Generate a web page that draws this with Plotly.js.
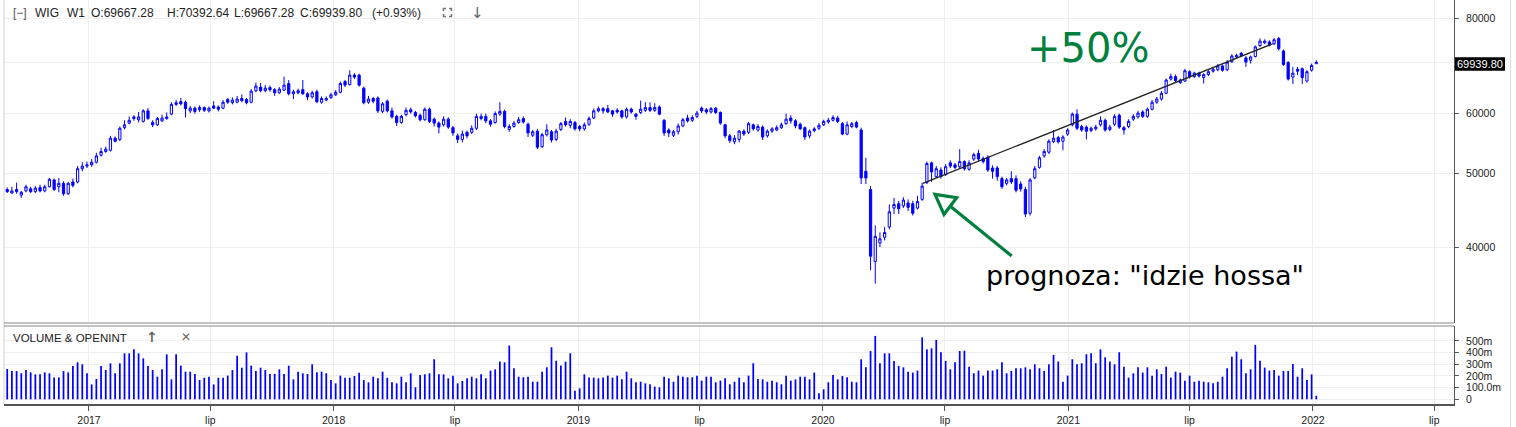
<!DOCTYPE html>
<html><head><meta charset="utf-8">
<script src="https://cdn.plot.ly/plotly-3.0.1.min.js"></script>
<style>html,body{margin:0;padding:0;background:#fff;}#chart{width:1516px;height:427px;}</style>
</head><body><div id="chart"></div>
<script>
// ---- DATA (weekly WIG candles, values in thousands of points; volume in millions) ----
const firstWeek = '2016-09-01';
const openK = [
47.6,47.1,47.6,46.8,47.4,47.7,47.3,47.9,47.4,48.0,
49.0,48.0,48.5,47.0,48.7,48.7,50.7,51.1,51.3,51.7,
52.8,53.4,53.6,55.6,55.4,57.4,58.2,59.0,58.8,58.5,
60.4,58.3,57.9,58.6,59.0,59.8,61.6,62.1,62.0,60.4,
60.9,60.6,61.0,60.4,61.3,61.1,60.9,62.5,61.9,62.0,
62.7,62.5,62.0,64.2,64.9,64.2,64.8,64.4,63.8,64.3,
65.6,63.6,63.8,64.4,63.6,63.0,64.0,62.0,62.4,62.9,
63.4,63.9,66.0,65.4,67.3,67.3,64.7,62.0,62.7,62.8,
60.3,62.2,60.4,59.4,58.3,59.7,60.6,60.1,59.6,58.8,
60.7,58.9,58.2,57.9,58.9,57.4,56.0,55.4,56.6,56.6,
57.3,59.0,59.4,58.6,58.3,59.8,60.3,57.1,57.6,58.3,
59.0,58.0,56.1,56.8,54.2,56.2,56.7,55.4,57.1,58.5,
57.8,58.3,57.6,57.2,58.0,59.1,60.4,60.8,60.8,60.4,
60.5,60.4,59.3,60.7,59.8,60.1,60.5,61.0,60.5,61.1,
58.7,57.0,56.1,56.7,57.7,59.1,58.7,59.4,60.9,60.6,
60.2,60.9,60.1,57.9,56.0,55.0,55.4,56.8,56.6,57.9,
57.0,57.5,56.0,56.8,57.0,57.4,58.1,59.1,58.6,58.0,
57.4,56.0,56.9,57.3,57.9,58.4,58.7,59.1,58.1,56.3,
57.6,58.3,57.0,50.3,47.6,38.3,40.5,41.2,42.5,45.0,
45.6,45.3,45.7,45.6,45.0,46.2,48.6,51.6,49.5,50.5,
49.8,51.6,51.3,51.0,51.8,50.6,52.2,53.1,52.3,52.5,
50.8,50.8,49.2,48.5,49.2,49.2,48.4,47.6,44.3,49.3,
50.9,52.7,53.3,55.0,55.7,55.1,56.3,57.9,59.8,57.6,
57.5,56.9,57.2,57.9,58.7,57.1,58.0,59.6,57.4,57.6,
58.9,59.3,60.2,59.4,60.7,62.0,62.6,63.7,66.5,67.0,
65.8,66.1,68.0,67.0,67.7,66.8,67.4,68.1,68.4,69.2,
68.4,70.1,71.1,71.9,70.9,70.4,71.2,73.6,74.2,74.4,
74.0,75.2,72.4,69.9,66.9,68.5,68.6,66.1,68.3,69.66728];
const highK = [
47.9,48.0,48.6,47.4,48.3,48.0,48.1,48.3,48.3,49.3,
49.2,49.3,48.8,48.7,49.2,51.1,51.7,51.8,52.2,53.2,
54.0,54.2,56.0,55.9,57.6,58.7,59.4,59.6,60.2,60.7,
60.9,58.7,59.3,59.7,60.1,62.0,62.4,62.8,62.3,61.3,
61.2,61.4,61.2,61.2,62.2,61.4,62.4,62.8,62.9,63.2,
63.5,62.8,64.5,65.8,65.7,65.3,65.2,64.7,64.9,67.0,
66.3,64.4,64.6,66.3,63.9,64.2,64.4,63.1,63.1,63.8,
64.3,66.0,66.3,68.3,67.7,67.6,65.0,63.2,63.0,63.1,
62.0,62.5,61.0,59.7,59.7,61.0,61.0,60.4,59.9,61.0,
61.0,59.2,58.5,59.4,59.2,57.7,56.4,56.9,56.9,57.8,
59.9,59.9,59.9,58.9,60.3,62.0,60.6,58.0,58.6,59.3,
59.4,58.3,57.0,57.2,56.5,58.0,57.0,57.2,58.4,59.2,
58.9,58.6,57.9,58.3,59.4,60.8,61.2,61.1,61.5,60.6,
60.9,60.6,61.0,61.0,60.0,62.3,62.0,62.0,61.8,61.4,
58.9,57.3,57.0,58.1,59.1,59.7,59.6,60.4,61.2,60.9,
61.1,61.1,60.3,58.1,56.3,56.1,57.0,57.1,58.4,58.1,
58.0,57.8,57.1,57.5,57.8,58.3,59.9,59.6,58.9,58.3,
57.6,57.1,57.5,58.2,58.8,59.1,59.6,59.5,58.4,58.5,
58.4,58.6,57.4,52.4,48.1,42.7,41.8,42.5,45.5,46.4,
46.0,46.5,46.2,46.0,46.7,48.6,51.8,51.8,51.1,50.9,
51.4,52.0,51.6,53.8,52.0,52.0,53.2,53.7,52.6,52.8,
51.2,51.1,49.5,49.3,50.3,49.7,48.8,48.0,49.3,51.1,
52.7,53.8,55.4,57.0,56.0,56.1,57.3,60.1,60.7,57.9,
57.8,57.6,57.9,59.4,59.0,57.9,59.8,59.9,57.7,58.9,
59.8,60.4,60.5,61.0,62.4,63.0,64.1,66.6,67.6,67.4,
66.6,68.6,68.3,68.0,68.0,67.7,68.3,68.8,69.6,69.5,
70.4,71.7,71.8,72.2,71.3,71.4,73.6,75.2,75.0,74.8,
75.3,75.5,72.7,70.2,69.0,69.0,68.9,68.3,69.7,70.39264];
const lowK = [
47.1,47.0,47.0,46.4,47.2,47.1,47.1,47.2,47.2,47.9,
47.4,47.2,46.7,46.8,47.9,48.5,50.3,50.8,51.0,51.5,
52.6,53.2,53.4,54.9,55.1,57.1,58.0,58.6,58.3,58.3,
58.8,57.5,57.7,58.4,58.8,59.6,61.3,61.4,59.2,60.0,
59.9,60.2,60.2,60.1,60.7,60.3,60.7,61.7,61.6,61.8,
62.0,61.6,61.8,63.9,63.9,63.9,64.0,63.2,63.6,64.2,
63.3,62.6,63.5,63.4,62.4,62.7,61.8,61.7,62.2,62.6,
63.2,63.7,64.9,65.2,66.5,65.0,61.6,61.7,61.8,60.0,
60.0,60.1,59.0,57.7,58.1,59.4,59.9,59.2,58.5,58.6,
58.2,57.6,56.4,57.6,57.2,56.0,54.8,54.9,55.6,56.3,
57.0,58.7,58.2,57.6,58.1,59.5,57.3,56.7,57.4,58.1,
58.1,55.8,55.8,53.8,54.0,55.9,54.9,55.1,56.8,57.6,
57.3,56.9,56.8,56.9,57.7,58.9,60.1,59.9,60.0,59.3,
59.9,59.0,59.0,59.9,58.8,59.8,60.2,60.2,60.2,59.6,
56.0,55.8,55.8,56.2,57.5,58.3,58.4,59.1,60.0,59.8,
59.9,59.8,57.9,55.6,54.8,54.6,54.9,56.0,56.3,56.9,
56.7,55.3,55.7,56.5,56.8,57.2,57.9,58.1,57.3,57.0,
55.3,55.6,56.6,57.0,57.7,58.1,58.5,58.2,56.1,56.1,
57.3,57.3,48.4,48.4,37.3,35.8,40.0,40.8,42.2,44.2,
44.2,45.0,44.6,44.0,44.8,46.0,48.4,48.7,49.3,49.2,
49.6,50.8,50.6,50.8,50.4,50.4,51.9,51.9,51.5,50.2,
49.2,48.9,47.7,48.2,48.4,47.2,47.3,43.8,44.0,49.1,
50.7,52.4,53.0,54.8,54.7,53.6,56.0,57.6,57.0,56.7,
55.4,56.6,56.9,57.6,56.7,56.8,57.7,57.2,56.2,57.3,
58.6,59.0,59.1,59.1,60.5,61.7,62.3,63.5,66.2,65.8,
65.5,65.9,66.6,66.7,66.8,65.6,67.1,67.8,68.1,68.0,
68.1,69.8,70.8,71.1,69.0,69.7,71.0,73.3,73.9,73.4,
73.7,72.5,69.2,66.2,65.5,67.3,65.5,65.8,68.0,69.66728];
const closeK = [
47.3,47.4,47.3,47.2,48.0,47.3,47.8,47.4,48.0,49.1,
47.6,48.5,47.0,48.5,48.2,50.7,51.1,51.3,51.7,52.7,
53.4,53.8,55.6,55.1,57.3,57.9,58.7,59.3,59.3,60.4,
59.0,57.9,59.0,59.1,59.3,61.6,61.9,61.7,60.8,60.9,
60.3,61.0,60.5,60.9,60.9,60.7,62.0,62.0,62.4,62.6,
62.3,61.9,64.1,65.1,64.2,64.7,64.4,63.8,64.5,65.3,
63.6,64.0,64.2,63.6,63.0,63.8,62.1,62.7,62.7,63.4,
63.9,65.6,65.3,67.3,66.9,65.3,61.9,62.6,62.2,60.4,
61.7,60.4,59.3,58.3,59.4,60.5,60.2,59.5,58.8,60.7,
58.5,58.2,57.5,58.9,57.5,56.5,55.4,56.3,56.0,57.3,
59.4,59.4,58.6,58.0,59.9,60.3,57.6,57.6,58.2,58.8,
58.4,56.5,56.7,54.1,56.2,57.0,55.3,56.8,58.1,57.9,
58.5,57.2,57.2,57.9,59.0,60.4,60.8,60.4,60.2,59.8,
60.2,59.3,60.7,60.2,59.4,60.7,61.0,60.5,61.0,59.8,
56.5,56.5,56.7,57.7,58.8,58.6,59.2,60.0,60.4,60.2,
60.8,60.1,58.2,56.0,55.2,55.6,56.8,56.3,58.1,57.2,
57.6,55.8,56.8,57.2,57.4,57.9,58.9,58.6,57.7,57.2,
55.8,56.8,57.2,57.8,58.5,58.7,59.2,58.5,56.3,57.9,
58.1,57.5,49.3,49.3,38.9,41.3,41.0,41.8,44.5,45.5,
44.9,46.1,45.1,44.3,45.9,48.1,51.5,50.2,50.7,49.5,
51.0,51.1,50.9,51.8,50.7,51.6,52.9,52.2,51.8,50.5,
50.3,49.5,48.0,49.0,48.7,47.5,47.7,44.2,49.0,50.7,
52.4,53.4,55.1,55.6,55.0,55.8,57.0,59.8,57.3,57.0,
56.8,57.3,57.5,58.7,57.0,57.5,59.4,57.5,57.0,58.5,
59.4,60.0,59.4,60.7,62.0,62.6,63.7,66.3,67.0,66.2,
66.3,68.2,67.0,67.7,67.1,67.4,68.0,68.5,69.2,68.3,
70.0,71.3,71.4,71.4,70.0,71.1,73.3,74.6,74.6,73.7,
74.9,72.9,69.5,66.5,67.7,68.1,66.8,68.0,69.3,69.9398];
const volumeM = [
260,242,242,223,251,231,214,214,231,223,
188,188,242,231,285,317,300,223,128,174,
285,251,308,223,308,394,394,428,394,351,
285,251,194,257,385,171,385,288,237,237,
217,165,185,194,128,185,185,203,251,374,
271,402,288,242,271,251,217,217,257,217,
288,171,237,223,217,300,231,237,223,165,
137,203,185,185,200,228,165,145,194,180,
237,185,146,137,194,146,223,103,208,214,
223,343,214,214,180,203,137,157,180,194,
180,214,180,246,257,323,317,460,266,194,
189,194,151,151,237,274,446,331,289,323,
394,74,94,214,186,186,180,186,203,186,
203,171,237,180,146,151,137,129,109,103,
194,180,151,203,194,189,189,203,160,194,
194,146,160,180,129,151,186,146,203,309,
174,171,151,160,146,129,203,160,171,194,
194,171,229,51,86,146,208,171,200,189,
151,146,343,274,414,543,309,394,394,329,
286,274,237,229,246,531,428,437,508,403,
329,257,317,414,417,280,223,246,203,246,
246,257,317,223,243,266,266,274,257,300,
266,243,300,380,323,151,203,343,300,309,
386,394,309,428,360,323,300,403,280,186,
223,274,229,274,203,257,217,280,186,237,
229,160,203,151,160,151,146,137,151,194,
266,366,409,343,223,257,466,331,272,246,
251,203,243,243,303,194,266,166,214,31];
const xTickVals = ['2017-01-01','2017-07-01','2018-01-01','2018-07-01','2019-01-01','2019-07-01',
                   '2020-01-01','2020-07-01','2021-01-01','2021-07-01','2022-01-01','2022-07-01'];
const xTickText = ['2017','lip','2018','lip','2019','lip','2020','lip','2021','lip','2022','lip'];
const priceTickVals = [40000,50000,60000,70000,80000];
const priceTickText = ['40000','50000','60000','','80000'];
const volTickVals = [0,100,200,300,400,500];
const volTickText = ['0','100.0m','200m','300m','400m','500m'];
const trendDates = ['2020-05-29','2021-11-02'];
const trendValues = [48500, 74000];
const lastPriceLabel = '69939.80';
const headerItems = ['[\u2212]','WIG','W1','O:69667.28','H:70392.64','L:69667.28','C:69939.80','(+0.93%)'];

// ---- build ----
const dates = [];
const t0 = Date.UTC(2016, 8, 1);
for (let i = 0; i < closeK.length; i++) {
  dates.push(new Date(t0 + i * 7 * 86400000).toISOString().slice(0, 10));
}
const k = v => v * 1000;

const W = 1516, H = 427, ML = 4, MR = 62, MT = 0, MB = 23;
const PW = W - ML - MR, PH = H - MT - MB;
const px = x => (x - ML) / PW;
const py = y => (H - MB - y) / PH;
const F = 'Liberation Sans, Arial, sans-serif';
const DJ = 'DejaVu Sans, Verdana, sans-serif';
const GREEN = '#00803e';
const BLUE = '#0000ff';
const pathPx = pts => pts.map((p, i) => (i ? 'L' : 'M') + px(p[0]).toFixed(5) + ',' + py(p[1]).toFixed(5)).join(' ');

const traces = [
  {
    type: 'candlestick', x: dates,
    open: openK.map(k), high: highK.map(k), low: lowK.map(k), close: closeK.map(k),
    xaxis: 'x', yaxis: 'y', whiskerwidth: 0,
    increasing: {line: {color: BLUE, width: 1}, fillcolor: '#ffffff'},
    decreasing: {line: {color: BLUE, width: 1}, fillcolor: BLUE},
    hoverinfo: 'skip'
  },
  {
    type: 'scatter', mode: 'lines', x: trendDates, y: trendValues,
    xaxis: 'x', yaxis: 'y', line: {color: '#222', width: 1.3}, hoverinfo: 'skip'
  },
  {
    type: 'bar', x: dates, y: volumeM, xaxis: 'x2', yaxis: 'y2',
    width: 2.6 * 86400000, marker: {color: BLUE, line: {width: 0}}, hoverinfo: 'skip'
  }
];

const headerX = [11, 33, 65, 89, 165, 232, 298, 370];
const annotations = headerItems.map((t, i) => ({
  text: t, xref: 'paper', yref: 'paper', x: px(headerX[i]), y: py(12.6),
  xanchor: 'left', yanchor: 'middle', showarrow: false,
  font: {family: F, size: 12, color: i === 0 ? '#555' : '#222'}
}));
annotations.push(
  {text: '\u2193', xref: 'paper', yref: 'paper', x: px(477.5), y: py(12.5), xanchor: 'center', yanchor: 'middle',
   showarrow: false, font: {family: DJ, size: 15, color: '#666'}},
  {text: 'VOLUME &amp; OPENINT', xref: 'paper', yref: 'paper', x: px(11), y: py(338), xanchor: 'left', yanchor: 'middle',
   showarrow: false, font: {family: F, size: 11.5, color: '#222'}},
  {text: '<b>\u2191</b>', xref: 'paper', yref: 'paper', x: px(152), y: py(337), xanchor: 'center', yanchor: 'middle',
   showarrow: false, font: {family: DJ, size: 14, color: '#666'}},
  {text: '<b>\u2715</b>', xref: 'paper', yref: 'paper', x: px(185.5), y: py(337), xanchor: 'center', yanchor: 'middle',
   showarrow: false, font: {family: DJ, size: 12, color: '#666'}},
  {text: '+50%', xref: 'paper', yref: 'paper', x: px(1088), y: py(47.5), xanchor: 'center', yanchor: 'middle',
   showarrow: false, font: {family: DJ, size: 40, color: GREEN}},
  {text: 'prognoza: "idzie hossa"', xref: 'paper', yref: 'paper', x: px(1145), y: py(275), xanchor: 'center', yanchor: 'middle',
   showarrow: false, font: {family: DJ, size: 27, color: '#000'}},
  {text: lastPriceLabel, xref: 'paper', yref: 'paper', x: px(1480), y: py(64), xanchor: 'center', yanchor: 'middle',
   showarrow: false, font: {family: F, size: 11, color: '#fff'}}
);

const shapes = [
  // panel borders
  {type: 'line', xref: 'paper', yref: 'paper', x0: 0, x1: 0, y0: 0, y1: 1, line: {color: '#d0d0d0', width: 1}},
  {type: 'line', xref: 'paper', yref: 'paper', x0: 0, x1: 1, y0: py(323), y1: py(323), line: {color: '#888', width: 1}},
  {type: 'line', xref: 'paper', yref: 'paper', x0: 0, x1: 1, y0: py(326), y1: py(326), line: {color: '#888', width: 1}},
  {type: 'line', xref: 'paper', yref: 'paper', x0: px(1510.5), x1: px(1510.5), y0: py(427), y1: py(0), line: {color: '#dcdcdc', width: 1}},
  // last price box
  {type: 'rect', xref: 'paper', yref: 'paper', x0: px(1455), x1: px(1505), y0: py(70.7), y1: py(57.3),
   fillcolor: '#000', line: {width: 0}},
  // green arrow
  {type: 'path', xref: 'paper', yref: 'paper', path: pathPx([[1011.7, 256], [950, 206]]),
   line: {color: GREEN, width: 3.2}},
  {type: 'path', xref: 'paper', yref: 'paper', path: pathPx([[935, 194.3], [956.7, 197.7], [944, 214.3]]) + ' Z',
   fillcolor: 'rgba(0,0,0,0)', line: {color: GREEN, width: 3.2}},
  // fullscreen icon
  {type: 'path', xref: 'paper', yref: 'paper', path: pathPx([[443.5, 11], [443.5, 8.5], [446, 8.5]]), line: {color: '#777', width: 1.5}},
  {type: 'path', xref: 'paper', yref: 'paper', path: pathPx([[449, 8.5], [451.5, 8.5], [451.5, 11]]), line: {color: '#777', width: 1.5}},
  {type: 'path', xref: 'paper', yref: 'paper', path: pathPx([[443.5, 14], [443.5, 16.5], [446, 16.5]]), line: {color: '#777', width: 1.5}},
  {type: 'path', xref: 'paper', yref: 'paper', path: pathPx([[449, 16.5], [451.5, 16.5], [451.5, 14]]), line: {color: '#777', width: 1.5}}
];

const xRange = ['2016-08-27 05:00', '2022-07-30 10:00'];
const layout = {
  width: W, height: H, margin: {l: ML, r: MR, t: MT, b: MB, pad: 0},
  paper_bgcolor: '#fff', plot_bgcolor: '#fff', showlegend: false,
  font: {family: F, size: 10.5, color: '#222'},
  boxgap: 0.32,
  xaxis: {
    type: 'date', range: xRange, domain: [0, 1], anchor: 'y',
    tickvals: xTickVals, ticktext: xTickText, showticklabels: false, ticks: '',
    showgrid: true, gridcolor: '#efefef', gridwidth: 1, zeroline: false, showline: false,
    rangeslider: {visible: false}, fixedrange: true
  },
  xaxis2: {
    type: 'date', matches: 'x', anchor: 'y2', domain: [0, 1],
    tickvals: xTickVals, ticktext: xTickText, ticks: 'outside', ticklen: 5, tickcolor: '#555',
    showgrid: true, gridcolor: '#efefef', zeroline: false,
    showline: true, linecolor: '#555', linewidth: 2,
    tickfont: {family: F, size: 10.5, color: '#222'}
  },
  yaxis: {
    domain: [py(323), 1], anchor: 'x', type: 'log', side: 'right',
    range: [Math.log10(31780), Math.log10(84480)],
    tickvals: priceTickVals, ticktext: priceTickText,
    ticks: 'outside', ticklen: 4, tickcolor: '#555', ticklabelstandoff: 5,
    showline: true, linecolor: '#555', linewidth: 1,
    showgrid: true, gridcolor: '#efefef', zeroline: false,
    tickfont: {family: F, size: 10.5, color: '#222'}
  },
  yaxis2: {
    domain: [0, py(326)], anchor: 'x2', side: 'right', range: [-40, 628],
    tickvals: volTickVals, ticktext: volTickText,
    ticks: 'outside', ticklen: 4, tickcolor: '#555', ticklabelstandoff: 5,
    showline: true, linecolor: '#555', linewidth: 1,
    showgrid: true, gridcolor: '#efefef', zeroline: false,
    tickfont: {family: F, size: 10.5, color: '#222'}
  },
  annotations: annotations,
  shapes: shapes
};

Plotly.newPlot('chart', traces, layout, {displayModeBar: false, staticPlot: true});
</script>
</body></html>
